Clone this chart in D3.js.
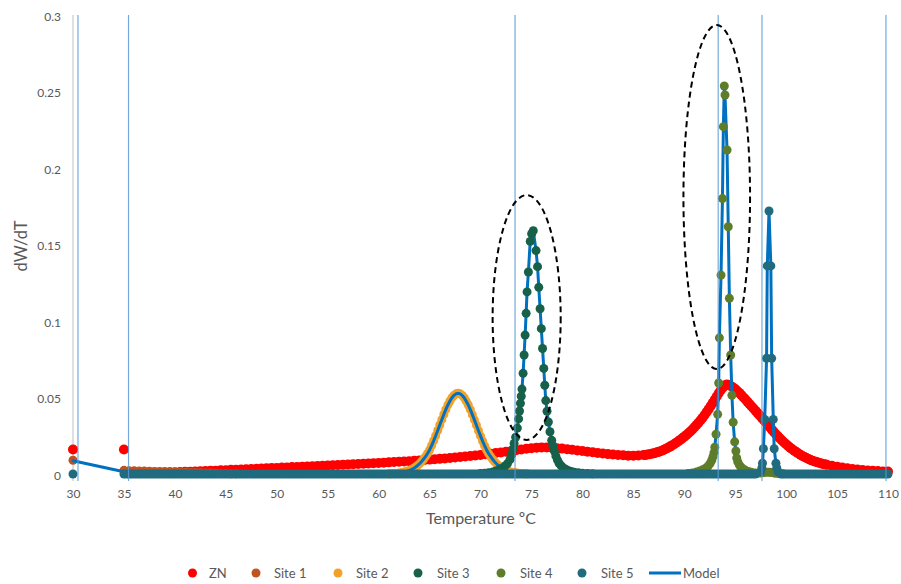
<!DOCTYPE html>
<html>
<head>
<meta charset="utf-8">
<script src="https://cdn.jsdelivr.net/npm/d3@7"></script>
<style>
  body { margin: 0; background: #fff; }
  svg { display: block; }
  text { font-family: Lato, "Open Sans", sans-serif; fill: #595959; }
</style>
</head>
<body>
<svg id="chart" width="901" height="584"></svg>
<script>
// ---- axis ticks ----
const xTicks = [30, 35, 40, 45, 50, 55, 60, 65, 70, 75, 80, 85, 90, 95, 100, 105, 110];
const yTicks = [0, 0.05, 0.1, 0.15, 0.2, 0.25, 0.3];

// ---- ZN: two isolated readings, then three sampling blocks ----
const znLeadT = [30, 35];
const znLeadV = [0.016, 0.016];
// block A: 35.5 .. 85.5 every 0.5 ºC
const znAStart = 35.5, znAStep = 0.5;
const znAV = [
  0.0012, 0.0011, 0.0010, 0.0010, 0.0010, 0.0010, 0.0010, 0.0011, 0.0011, 0.0012,
  0.0013, 0.0014, 0.0015, 0.0016, 0.0018, 0.0019, 0.0021, 0.0022, 0.0024, 0.0025,
  0.0027, 0.0028, 0.0030, 0.0031, 0.0033, 0.0034, 0.0036, 0.0037, 0.0039, 0.0040,
  0.0042, 0.0043, 0.0045, 0.0046, 0.0048, 0.0049, 0.0051, 0.0052, 0.0054, 0.0055,
  0.0057, 0.0059, 0.0060, 0.0062, 0.0064, 0.0065, 0.0067, 0.0069, 0.0071, 0.0072,
  0.0074, 0.0076, 0.0078, 0.0080, 0.0082, 0.0084, 0.0087, 0.0089, 0.0091, 0.0094,
  0.0096, 0.0099, 0.0102, 0.0105, 0.0108, 0.0111, 0.0114, 0.0118, 0.0121, 0.0125,
  0.0129, 0.0133, 0.0137, 0.0141, 0.0146, 0.0150, 0.0155, 0.0160, 0.0165, 0.0169,
  0.0172, 0.0174, 0.0174, 0.0172, 0.0169, 0.0166, 0.0162, 0.0158, 0.0154, 0.0150,
  0.0146, 0.0142, 0.0138, 0.0134, 0.0130, 0.0127, 0.0124, 0.0122, 0.0120, 0.0120,
  0.0121
];
// block B: 86.0 .. 104.0 every 0.2 ºC (the main ZN peak)
const znBStart = 86.0, znBStep = 0.2;
const znBV = [
  0.0124, 0.0125, 0.0127, 0.0129, 0.0132, 0.0135, 0.0139, 0.0143, 0.0147, 0.0152,
  0.0158, 0.0165, 0.0172, 0.0179, 0.0187, 0.0195, 0.0204, 0.0213, 0.0223, 0.0233,
  0.0243, 0.0254, 0.0266, 0.0278, 0.0291, 0.0305, 0.0320, 0.0335, 0.0351, 0.0368,
  0.0386, 0.0405, 0.0424, 0.0444, 0.0465, 0.0487, 0.0508, 0.0529, 0.0549, 0.0566,
  0.0580, 0.0585, 0.0582, 0.0574, 0.0565, 0.0555, 0.0543, 0.0530, 0.0516, 0.0502,
  0.0488, 0.0473, 0.0458, 0.0443, 0.0428, 0.0413, 0.0398, 0.0383, 0.0368, 0.0353,
  0.0338, 0.0322, 0.0306, 0.0290, 0.0275, 0.0260, 0.0246, 0.0232, 0.0219, 0.0206,
  0.0194, 0.0183, 0.0172, 0.0162, 0.0152, 0.0143, 0.0134, 0.0126, 0.0118, 0.0111,
  0.0104, 0.0098, 0.0092, 0.0087, 0.0082, 0.0078, 0.0074, 0.0070, 0.0066, 0.0063,
  0.0060
];
// block C: 104.5 .. 110 every 0.5 ºC
const znCStart = 104.5, znCStep = 0.5;
const znCV = [0.0054, 0.0048, 0.0042, 0.0037, 0.0033, 0.0029, 0.0026, 0.0023, 0.0021, 0.0019, 0.0017, 0.0016];

// ---- Site 1 ----
const site1T = [30, 35, 35.5, 36, 36.5, 37, 37.5, 38, 38.5, 39, 39.5, 40, 40.5, 41, 41.5, 42, 42.5, 43, 43.5, 44, 44.5, 45, 45.5, 46];
const site1V = [0.009, 0.0024, 0.0022, 0.0021, 0.002, 0.0019, 0.0018, 0.0017, 0.0016, 0.0015, 0.0014, 0.0013, 0.0012, 0.0011, 0.001, 0.0009, 0.0008, 0.0007, 0.0006, 0.0005, 0.0004, 0.0003, 0.0002, 0.0001];

// ---- Site 2: 0.2 ºC grid from 61.0 to 74.6 ----
const site2Start = 61.0, site2Step = 0.2;
const site2V = [
  0.0002, 0.0002, 0.0003, 0.0003, 0.0004, 0.0006, 0.0008, 0.0011, 0.0014, 0.0018,
  0.0023, 0.0029, 0.0036, 0.0044, 0.0054, 0.0066, 0.0080, 0.0096, 0.0114, 0.0134,
  0.0157, 0.0186, 0.0217, 0.0250, 0.0284, 0.0320, 0.0355, 0.0389, 0.0422, 0.0452,
  0.0477, 0.0499, 0.0514, 0.0524, 0.0527,
  0.0524, 0.0514, 0.0498, 0.0476, 0.0451, 0.0421, 0.0388, 0.0354, 0.0319, 0.0283,
  0.0249, 0.0216, 0.0185, 0.0157, 0.0133, 0.0113, 0.0095, 0.0079, 0.0065, 0.0053,
  0.0043, 0.0035, 0.0028, 0.0022, 0.0017, 0.0013, 0.0010, 0.0008, 0.0006, 0.0004,
  0.0003, 0.0003, 0.0002, 0.0002
];

// ---- Site 3 ----
const site3T = [70.0, 70.4, 70.8, 71.2, 71.5, 71.8, 72.1, 72.4, 72.65, 72.9, 73.05, 73.18, 73.3, 73.45, 73.62,
  73.74, 73.83, 73.92, 74.0, 74.07, 74.18, 74.28, 74.38, 74.48, 74.57, 74.7, 74.88, 75.02, 75.18, 75.45,
  75.6, 75.72, 75.85, 75.97, 76.09, 76.21, 76.31, 76.41, 76.53, 76.66, 76.82, 76.99, 77.1, 77.25, 77.4,
  77.55, 77.7, 77.9, 78.1, 78.35, 78.6, 78.9, 79.2, 79.6, 80.0, 80.5, 81.0];
const site3V = [0.0003, 0.0005, 0.0008, 0.0013, 0.0019, 0.0027, 0.0038, 0.0052, 0.0068, 0.0095, 0.0125, 0.016, 0.02, 0.024, 0.03,
  0.036, 0.0412, 0.0462, 0.0508, 0.0555, 0.0658, 0.0778, 0.0908, 0.105, 0.119, 0.132, 0.152, 0.157, 0.159, 0.146,
  0.1355, 0.122, 0.108, 0.095, 0.082, 0.069, 0.058, 0.048, 0.041, 0.034, 0.0276, 0.022, 0.0185, 0.015, 0.0118,
  0.0092, 0.0072, 0.0055, 0.0042, 0.0031, 0.0023, 0.0017, 0.0012, 0.0008, 0.0005, 0.0003, 0.0002];

// ---- Site 4 ----
const site4T = [90.4, 90.8, 91.2, 91.5, 91.8, 92.1, 92.35, 92.55, 92.7, 92.82, 92.92, 93.0, 93.12, 93.28, 93.38,
  93.45, 93.61, 93.75, 93.84, 93.93, 94.0, 94.2, 94.32, 94.43, 94.56, 94.68, 94.8, 94.95, 95.07, 95.15,
  95.25, 95.4, 95.55, 95.75, 96.0, 96.3, 96.6, 97.0, 97.4, 97.6, 97.8, 98.0, 98.2, 98.4, 98.6,
  98.8, 99.0, 99.3, 99.7];
const site4V = [0.0003, 0.0007, 0.0013, 0.0019, 0.0027, 0.0038, 0.0052, 0.007, 0.009, 0.0113, 0.014, 0.0175, 0.026, 0.039, 0.0595,
  0.089, 0.13, 0.18, 0.227, 0.2536, 0.2477, 0.2118, 0.1616, 0.1148, 0.0778, 0.0515, 0.0338, 0.021, 0.015, 0.0105,
  0.008, 0.006, 0.0046, 0.0034, 0.0024, 0.0016, 0.0011, 0.0006, 0.0006, 0.0008, 0.001, 0.0012, 0.0012, 0.0011, 0.0009,
  0.0007, 0.0005, 0.0003, 0.0002];

// ---- Site 5: flat baseline readings plus the peak near 98 ºC ----
const site5BaseT = [30].concat(d3.range(35, 97.01, 0.25), d3.range(99.5, 110.01, 0.25));
const site5PeakT = [97.5, 97.62, 97.68, 97.77, 97.9, 98.08, 98.15, 98.32, 98.5, 98.58, 98.74, 98.83, 99.0, 99.08, 99.2];
const site5PeakV = [0.0015, 0.004, 0.007, 0.0165, 0.0357, 0.0756, 0.136, 0.1719, 0.136, 0.0756, 0.0357, 0.0165, 0.007, 0.004, 0.0015];

// ---- Model ----
const modelLeadT = [30, 35];
const modelLeadV = [0.0087, 0.0015];
const modelEndT = [110];
const modelEndV = [0];
// thin vertical traces of the model where it leaves the plotted range
const modelSpikeT = [30.49, 35.45, 73.39, 93.33, 97.63, 109.8];

// ---- highlighted peaks (dashed rings) ----
const ringCentreT = [74.53, 93.19];
const ringCentreV = [0.1023, 0.181];
const ringHalfT = [3.34, 3.27];
const ringHalfV = [0.080, 0.1124];

// ---- colours ----
const colors = {
  ZN: "#FF0000", "Site 1": "#BF5320", "Site 2": "#F2A12B", "Site 3": "#17604A",
  "Site 4": "#5E7D2A", "Site 5": "#216B7F", Model: "#0070C0"
};

// ---- assemble point lists ----
const zip = (T, V) => T.map((t, i) => [t, V[i]]);
const block = (start, step, V) => V.map((v, i) => [+(start + i * step).toFixed(2), v]);
const znPts = zip(znLeadT, znLeadV)
  .concat(block(znAStart, znAStep, znAV), block(znBStart, znBStep, znBV), block(znCStart, znCStep, znCV));
const site1Pts = zip(site1T, site1V);
const site2Pts = block(site2Start, site2Step, site2V);
const site3Pts = zip(site3T, site3V);
const site4Pts = zip(site4T, site4V);
const site5Pts = site5BaseT.map(t => [t, 0]).concat(zip(site5PeakT, site5PeakV)).sort((a, b) => a[0] - b[0]);
const modelPts = zip(modelLeadT, modelLeadV)
  .concat(site2Pts.filter(d => d[0] <= 72.4))
  .concat(site3Pts.filter(d => d[0] >= 72.6))
  .concat(site4Pts.filter(d => d[0] <= 96.6))
  .concat(zip(site5PeakT, site5PeakV))
  .concat(zip(modelEndT, modelEndV));

// ---- layout ----
const svg = d3.select("#chart");
const x = d3.scaleLinear().domain([30, 110]).range([73, 888]);
const y = d3.scaleLinear().domain([0, 0.3]).range([474, 15]);
const R = 4.5;

// vertical axis line
svg.append("line")
  .attr("x1", x(30)).attr("x2", x(30))
  .attr("y1", y(0.3)).attr("y2", y(0) + 7)
  .attr("stroke", "#BFBFBF").attr("stroke-width", 1);

// axes
const gx = svg.append("g").attr("transform", `translate(0,${y(0)})`)
  .call(d3.axisBottom(x).tickValues(xTicks).tickSize(0).tickPadding(15).tickFormat(d3.format("d")));
gx.select(".domain").remove();
gx.selectAll("text").attr("font-size", 12).style("font-family", "Lato, sans-serif").attr("fill", "#595959");

const gy = svg.append("g").attr("transform", `translate(${x(30)},0)`)
  .call(d3.axisLeft(y).tickValues(yTicks).tickSize(0).tickPadding(12).tickFormat(d => String(+d.toFixed(2))));
gy.select(".domain").remove();
gy.selectAll("text").attr("font-size", 12).attr("dy", "0.42em").style("font-family", "Lato, sans-serif").attr("fill", "#595959");

// axis titles
svg.append("text").attr("transform", "translate(27,246) rotate(-90)")
  .attr("text-anchor", "middle").attr("font-size", 16.5).text("dW/dT");
svg.append("text").attr("x", 481).attr("y", 524)
  .attr("text-anchor", "middle").attr("font-size", 16).text("Temperature ºC");

// scatter layers
function dots(pts, color, r) {
  svg.append("g").selectAll("circle").data(pts).join("circle")
    .attr("cx", d => x(d[0])).attr("cy", d => y(d[1])).attr("r", r).attr("fill", color);
}
dots(znPts, colors.ZN, 5);
dots(site1Pts, colors["Site 1"], R);
dots(site2Pts, colors["Site 2"], R);

// model curve
svg.append("path").datum(modelPts)
  .attr("d", d3.line().x(d => x(d[0])).y(d => y(d[1])))
  .attr("fill", "none").attr("stroke", colors.Model).attr("stroke-width", 3)
  .attr("stroke-linejoin", "round").attr("stroke-linecap", "round");

dots(site3Pts, colors["Site 3"], R);
dots(site4Pts, colors["Site 4"], R);
dots(site5Pts, colors["Site 5"], R);

// thin model traces
svg.append("g").selectAll("line").data(modelSpikeT).join("line")
  .attr("x1", d => x(d)).attr("x2", d => x(d))
  .attr("y1", y(0.3)).attr("y2", y(0) + 7)
  .attr("stroke", "#5B9BD5").attr("stroke-opacity", 0.85).attr("stroke-width", 1.2);

// dashed rings round the two sharp peaks
svg.append("g").selectAll("ellipse").data(ringCentreT).join("ellipse")
  .attr("cx", d => x(d))
  .attr("cy", (d, i) => y(ringCentreV[i]))
  .attr("rx", (d, i) => x(d + ringHalfT[i]) - x(d))
  .attr("ry", (d, i) => y(0) - y(ringHalfV[i]))
  .attr("fill", "none").attr("stroke", "#000").attr("stroke-width", 2)
  .attr("stroke-dasharray", "6,4");

// legend
const legendItems = [
  { name: "ZN", cx: 192.5, tx: 209 },
  { name: "Site 1", cx: 256, tx: 274 },
  { name: "Site 2", cx: 338, tx: 356 },
  { name: "Site 3", cx: 418, tx: 437 },
  { name: "Site 4", cx: 501, tx: 520 },
  { name: "Site 5", cx: 582, tx: 601 }
];
const lg = svg.append("g");
legendItems.forEach(it => {
  lg.append("circle").attr("cx", it.cx).attr("cy", 573).attr("r", R).attr("fill", colors[it.name]);
  lg.append("text").attr("x", it.tx).attr("y", 577.5).attr("font-size", 13).text(it.name);
});
lg.append("line").attr("x1", 649).attr("x2", 681).attr("y1", 573).attr("y2", 573)
  .attr("stroke", colors.Model).attr("stroke-width", 3);
lg.append("text").attr("x", 683).attr("y", 577.5).attr("font-size", 13).text("Model");
</script>
</body>
</html>
